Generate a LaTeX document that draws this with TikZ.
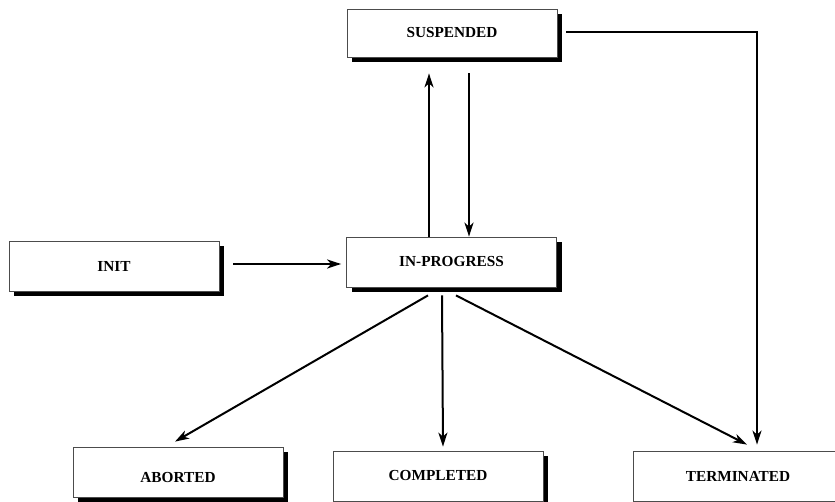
\documentclass[tikz,border=0pt]{standalone}
\usepackage{fontspec}
\setmainfont{Liberation Serif}
\usetikzlibrary{arrows.meta,shadows,calc}
\begin{document}
\begin{tikzpicture}[x=1pt,y=-1pt,
  state/.style={draw=black!70,line width=0.8pt,fill=white,
    minimum width=210pt,minimum height=50pt,inner sep=0pt,
    font=\fontsize{15.3}{17}\selectfont\bfseries,
    drop shadow={shadow xshift=5pt,shadow yshift=-5pt,opacity=1,fill=black}},
  flow/.style={line width=2pt,-{Stealth[length=14pt,width=9pt,inset=4pt]}}]
  \useasboundingbox (0,0) rectangle (835,502);
  % states
  \node[state,minimum height=48pt] (susp) at (452,33) {SUSPENDED};
  \node[state] (init) at (114,266) {INIT};
  \node[state] (prog) at (451.5,262) {IN-PROGRESS};
  \node[state] (abrt) at (178,472) {\rule{0pt}{22pt}ABORTED};
  \node[state] (comp) at (438,476) {COMPLETED};
  \node[state] (term) at (738,476) {TERMINATED\hspace{14pt}};
  % transitions
  \draw[flow] ($(init.east)+(14,-2)$) -- ($(prog.west)+(-5,2)$);
  \draw[flow] ($(prog.north)+(-22.5,0)$) -- ($(susp.south)+(-23,16)$);
  \draw[flow] ($(susp.south)+(17,16)$) -- ($(prog.north)+(17.5,0)$);
  \draw[flow] ($(susp.east)+(9,-1)$) -| ($(term.north)+(19,-6)$);
  \draw[flow] ($(prog.south)+(-23.5,8)$) -- ($(abrt.north)+(-3,-5)$);
  \draw[flow] ($(prog.south)+(-9.5,8)$) -- ($(comp.north)+(5,-4)$);
  \draw[flow] ($(prog.south)+(4.5,8)$) -- ($(term.north)+(9,-6)$);
\end{tikzpicture}
\end{document}
